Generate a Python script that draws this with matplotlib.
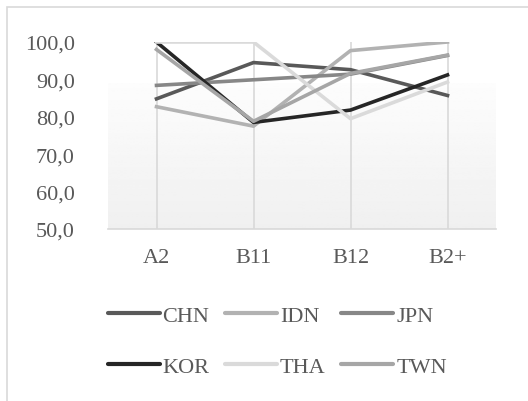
import numpy as np
import matplotlib.pyplot as plt
from matplotlib.patches import Rectangle

categories = ['A2', 'B11', 'B12', 'B2+']
countries = ['CHN', 'IDN', 'JPN', 'KOR', 'THA', 'TWN']
chn = [84.8, 94.5, 92.6, 85.7]
idn = [82.7, 77.5, 97.7, 100.0]
jpn = [88.4, 89.9, 91.4, 96.4]
kor = [100.0, 78.5, 81.8, 91.2]
tha = [100.0, 100.0, 79.5, 89.3]
twn = [98.0, 78.8, 91.6, 96.5]
series = [chn, idn, jpn, kor, tha, twn]
colors = ['#595959', '#b2b2b2', '#878787', '#262626', '#dadada', '#a6a6a6']
yticks = [50, 60, 70, 80, 90, 100]

plt.rcParams['font.family'] = ['Liberation Serif', 'DejaVu Serif']
txt = '#595959'

fig = plt.figure(figsize=(5.28, 4.02), dpi=100)
W, H = 528, 402
ax = fig.add_axes([108 / W, 1 - 230 / H, (496 - 108) / W, (230 - 43) / H])

# outer chart frame
fig.patches.append(Rectangle((7 / W, -0.05), 1.1, 1 - 8 / H + 0.05,
                             transform=fig.transFigure, fill=False,
                             edgecolor='#d9d9d9', lw=1.2))

x = np.arange(len(categories))
ax.set_xlim(-0.5, len(categories) - 0.5)
ax.set_ylim(50, 100)

# soft grey gradient in the lower part of the plot area
grad = np.linspace(0.94, 0.99, 100).reshape(-1, 1)
ax.imshow(grad, cmap='gray', vmin=0, vmax=1, aspect='auto', origin='lower',
          extent=(-0.5, len(categories) - 0.5, 50, 88.8), zorder=0)

for xi in x:
    ax.axvline(xi, color='#d9d9d9', lw=1.2, zorder=1)

lines = []
for name, vals, c in zip(countries, series, colors):
    ln, = ax.plot(x, vals, color=c, lw=2.6, label=name, zorder=3,
                  solid_joinstyle='round')
    lines.append(ln)

for s in ['top', 'right', 'left']:
    ax.spines[s].set_visible(False)
ax.spines['bottom'].set_color('#d9d9d9')
ax.spines['bottom'].set_linewidth(1.2)

ax.set_xticks(x)
ax.set_xticklabels(categories)
ax.set_yticks(yticks)
ax.set_yticklabels([f'{v:.1f}'.replace('.', ',') for v in yticks])
ax.tick_params(axis='both', length=0, labelsize=16, colors=txt)
ax.tick_params(axis='x', pad=14)
ax.tick_params(axis='y', pad=24)

# legend filled row by row: 3 columns, column-major order in matplotlib
order = [0, 3, 1, 4, 2, 5]
leg = fig.legend([lines[i] for i in order], [countries[i] for i in order],
                 loc='center', bbox_to_anchor=(0.525, 1 - 342 / H), ncol=3,
                 frameon=False, fontsize=16, handlelength=2.35,
                 handletextpad=0.12, columnspacing=0.7, labelspacing=1.35)
for t in leg.get_texts():
    t.set_color(txt)
for h in leg.get_lines():
    h.set_linewidth(3)
    h.set_solid_capstyle('round')

fig.savefig('out.png', dpi=100)
